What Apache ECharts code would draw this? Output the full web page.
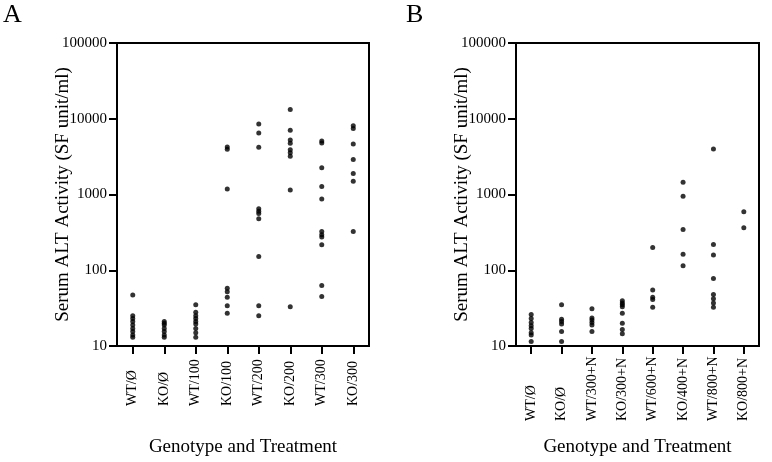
<!DOCTYPE html>
<html>
<head>
<meta charset="utf-8">
<script src="https://cdn.jsdelivr.net/npm/echarts@6/dist/echarts.min.js"></script>
<style>html,body{margin:0;padding:0;background:#fff;}#c{width:772px;height:462px;}</style>
</head>
<body>
<div id="c"></div>
<script>
// ---- Panel A ----
const catsA = ['WT/Ø','KO/Ø','WT/100','KO/100','WT/200','KO/200','WT/300','KO/300'];
const a_WT0   = [47, 25, 23, 21, 19, 17, 15.5, 14, 13];
const a_KO0   = [21, 20, 19, 17, 15.5, 14, 13];
const a_WT100 = [35, 28, 25, 23, 21, 19.5, 17, 15, 13];
const a_KO100 = [4250, 3950, 1180, 58, 52, 44, 34, 27];
const a_WT200 = [8500, 6500, 4200, 650, 600, 560, 480, 152, 34, 25];
const a_KO200 = [13200, 7050, 5250, 4750, 3900, 3550, 3200, 1150, 33];
const a_WT300 = [5100, 4800, 2250, 1280, 870, 325, 295, 275, 217, 63, 45];
const a_KO300 = [8100, 7450, 4650, 2900, 1900, 1500, 325];
// ---- Panel B ----
const catsB = ['WT/Ø','KO/Ø','WT/300+N','KO/300+N','WT/600+N','KO/400+N','WT/800+N','KO/800+N'];
const b_WT0    = [26, 23, 20.5, 18.5, 17, 15, 14, 11.5];
const b_KO0    = [35, 22.5, 21, 19.5, 15.5, 11.5];
const b_WT300N = [31, 23.5, 22, 20.5, 19, 15.5];
const b_KO300N = [39.5, 37, 35, 33, 27, 20, 16.5, 14.5];
const b_WT600N = [200, 55, 44, 41, 32.5];
const b_KO400N = [1450, 950, 345, 163, 115];
const b_WT800N = [4000, 218, 159, 78, 48, 42, 37, 32.5];
const b_KO800N = [590, 365];
// ---- Axis text ----
const yTicks = ['10', '100', '1000', '10000', '100000'];
const yTitle = 'Serum ALT Activity (SF unit/ml)';
const xTitle = 'Genotype and Treatment';
const panelLetters = ['A', 'B'];

const groupsA = [a_WT0, a_KO0, a_WT100, a_KO100, a_WT200, a_KO200, a_WT300, a_KO300];
const groupsB = [b_WT0, b_KO0, b_WT300N, b_KO300N, b_WT600N, b_KO400N, b_WT800N, b_KO800N];

function pts(cats, groups) {
  const out = [];
  groups.forEach((g, i) => g.forEach(v => out.push([cats[i], v])));
  return out;
}

const FONT = '"Liberation Serif", "Times New Roman", serif';

function xAxisFor(idx, cats, margin) {
  return {
    type: 'category', gridIndex: idx, data: cats, boundaryGap: true,
    axisLine: { show: true, lineStyle: { color: '#000', width: 2 } },
    axisTick: { show: true, alignWithLabel: true, length: 8, inside: false, interval: 0, lineStyle: { color: '#000', width: 2 } },
    axisLabel: { interval: 0, rotate: 90, align: 'left', verticalAlign: 'middle', margin: margin,
      color: '#000', fontFamily: FONT, fontSize: 14 },
    splitLine: { show: false },
    name: xTitle, nameLocation: 'middle', nameGap: 92, nameMoveOverlap: false,
    nameTextStyle: { color: '#000', fontFamily: FONT, fontSize: 19 }
  };
}
function yAxisFor(idx) {
  return {
    type: 'log', logBase: 10, gridIndex: idx, min: 10, max: 100000,
    axisLine: { show: true, lineStyle: { color: '#000', width: 2 } },
    axisTick: { show: true, length: 8, lineStyle: { color: '#000', width: 2 } },
    axisLabel: { margin: 10, color: '#000', fontFamily: FONT, fontSize: 15,
      formatter: function (v) { const e = Math.round(Math.log10(v)) - 1; return yTicks[e] !== undefined ? yTicks[e] : ''; } },
    splitLine: { show: false },
    name: yTitle, nameLocation: 'middle', nameRotate: 90, nameGap: 44, nameMoveOverlap: false,
    nameTextStyle: { color: '#000', fontFamily: FONT, fontSize: 19 }
  };
}

const chart = echarts.init(document.getElementById('c'), null, { renderer: 'canvas' });
chart.setOption({
  animation: false,
  backgroundColor: '#fff',
  grid: [
    { left: 117, top: 43, width: 252, height: 312, show: true, borderColor: '#000', borderWidth: 2, backgroundColor: 'transparent' },
    { left: 516, top: 43, width: 243, height: 312, show: true, borderColor: '#000', borderWidth: 2, backgroundColor: 'transparent' }
  ],
  xAxis: [xAxisFor(0, catsA, 60), xAxisFor(1, catsB, 75)],
  yAxis: [yAxisFor(0), yAxisFor(1)],
  graphic: [
    { type: 'text', left: 3, top: 2, style: { text: panelLetters[0], font: '26px ' + FONT, fill: '#000' } },
    { type: 'text', left: 406, top: 2, style: { text: panelLetters[1], font: '26px ' + FONT, fill: '#000' } }
  ],
  series: [
    { type: 'scatter', xAxisIndex: 0, yAxisIndex: 0, symbol: 'circle', symbolSize: 5,
      itemStyle: { color: '#000' }, data: pts(catsA, groupsA) },
    { type: 'scatter', xAxisIndex: 1, yAxisIndex: 1, symbol: 'circle', symbolSize: 5,
      itemStyle: { color: '#000' }, data: pts(catsB, groupsB) }
  ]
});
</script>
</body>
</html>
